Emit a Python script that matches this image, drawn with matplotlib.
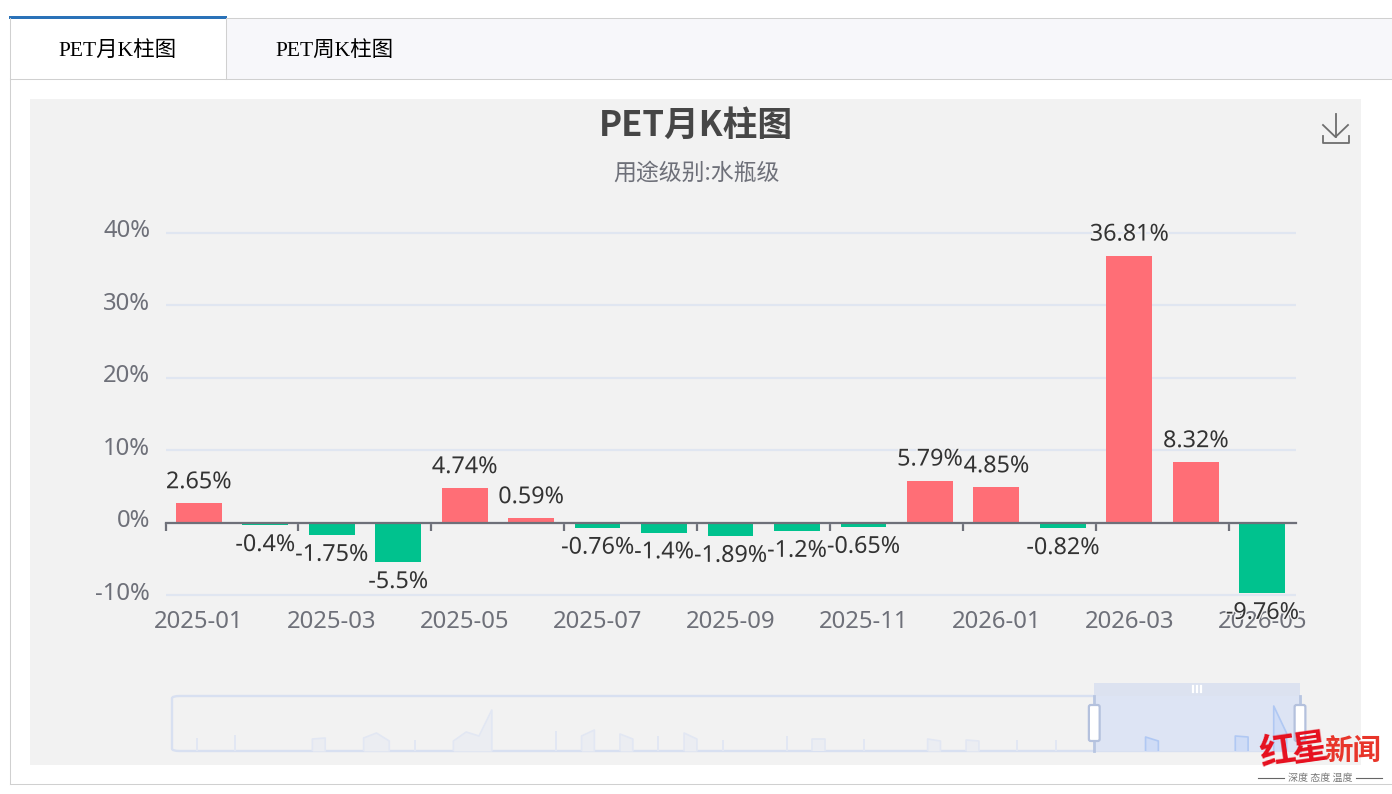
import numpy as np
import matplotlib
matplotlib.use('Agg')
import matplotlib.pyplot as plt
from matplotlib.patches import Rectangle, FancyBboxPatch
import matplotlib.patheffects as pe

W, H = 1392, 794
plt.rcParams['font.family'] = ['Noto Sans', 'Noto Sans CJK SC', 'DejaVu Sans']

months = ['2025-01', '2025-02', '2025-03', '2025-04', '2025-05', '2025-06', '2025-07', '2025-08', '2025-09',
          '2025-10', '2025-11', '2025-12', '2026-01', '2026-02', '2026-03', '2026-04', '2026-05']
changes = [2.65, -0.4, -1.75, -5.5, 4.74, 0.59, -0.76, -1.4, -1.89, -1.2, -0.65, 5.79, 4.85, -0.82, 36.81, 8.32, -9.76]
labels = ['2.65%', '-0.4%', '-1.75%', '-5.5%', '4.74%', '0.59%', '-0.76%', '-1.4%', '-1.89%', '-1.2%', '-0.65%',
          '5.79%', '4.85%', '-0.82%', '36.81%', '8.32%', '-9.76%']
yticks = [-10, 0, 10, 20, 30, 40]
# overview strip under the chart, sample index and height
mini_idx = [0, 3, 9, 10, 13, 14, 15, 17, 20, 21, 22, 23, 28, 30, 31, 33, 34, 36, 38, 39, 41, 46, 48, 49, 52, 57, 58,
            60, 61, 64, 67, 74, 75, 81, 82, 84, 85]
mini_val = [12, 15, 12, 13, 13, 18, 10, 10, 10, 19, 15, 41, 19, 15, 21, 17, 12, 14, 18, 12, 10, 14, 12, 12, 11, 12,
            10, 11, 10, 10, 10, 14, 10, 15, 14, 45, 18]
window_start = 70

RED, GREEN = '#ff6e76', '#00c28e'
AXIS, GRID, TEXT = '#6e7079', '#e0e6f1', '#333333'
PANEL = '#f2f2f2'
CJK = ['Noto Sans CJK SC', 'DejaVu Sans']


def rect_axes(fig, x0, y0, x1, y1):
    return fig.add_axes([x0 / W, 1 - y1 / H, (x1 - x0) / W, (y1 - y0) / H])


fig = plt.figure(figsize=(W / 100, H / 100), dpi=100, facecolor='white')

# page chrome, pixel coordinates
bg = fig.add_axes([0, 0, 1, 1])
bg.set_xlim(0, W)
bg.set_ylim(H, 0)
bg.axis('off')
bg.add_patch(Rectangle((227, 18), W - 227, 61, fc='#f7f7fa', ec='none'))
bg.plot([227, W], [17.5, 17.5], color='#d0d0d0', lw=0.75)
bg.plot([10, W], [79.2, 79.2], color='#d0d0d0', lw=0.75)
bg.add_patch(Rectangle((10, 18), 216, 61, fc='white', ec='none'))
bg.plot([9.5, 9.5], [18, 79], color='#d0d0d0', lw=0.75)
bg.plot([226.2, 226.2], [18, 79], color='#d0d0d0', lw=0.75)
bg.add_patch(Rectangle((9, 16), 218, 3, fc='#2a72b8', ec='none'))
bg.plot([10.2, 10.2], [79, 784], color='#d0d0d0', lw=0.75)
bg.plot([10, W], [784.2, 784.2], color='#d0d0d0', lw=0.75)
bg.add_patch(Rectangle((30, 99), 1331, 666, fc=PANEL, ec='none'))
tab_font = ['Liberation Serif', 'Noto Sans CJK SC']
bg.text(117.5, 51, 'PET月K柱图', ha='center', va='center', fontsize=15.5, color='black', family=tab_font)
bg.text(334.5, 51, 'PET周K柱图', ha='center', va='center', fontsize=15.5, color='black', family=tab_font)
bg.text(696, 125, 'PET月K柱图', ha='center', va='center', fontsize=25, fontweight='bold', color='#464646', family=CJK)
bg.text(696, 173, '用途级别:水瓶级', ha='center', va='center', fontsize=16.5, color=AXIS, family=CJK)
# download icon
bg.plot([1335.5, 1335.5], [114, 137], color='#6e6e6e', lw=1.3)
bg.plot([1323, 1335.5, 1348], [125, 137, 125], color='#6e6e6e', lw=1.3)
bg.plot([1322.5, 1322.5, 1348.5, 1348.5], [136, 143, 143, 136], color='#6e6e6e', lw=1.3)

# main bars
ax = rect_axes(fig, 165.5, 232.5, 1295.5, 595)
ax.patch.set_alpha(0)
x = np.arange(len(months))
colors = [RED if v >= 0 else GREEN for v in changes]
ax.bar(x, changes, width=0.69, color=colors, zorder=3)
ax.set_xlim(-0.5, len(months) - 0.5)
ax.set_ylim(-10, 40)
for s in ax.spines.values():
    s.set_visible(False)
ax.spines['bottom'].set_visible(True)
ax.spines['bottom'].set_position(('data', 0))
ax.spines['bottom'].set_color(AXIS)
ax.spines['bottom'].set_linewidth(1.6)
ax.spines['bottom'].set_zorder(4)
ax.set_yticks(yticks)
ax.set_yticklabels([])
ax.tick_params(axis='y', length=0)
ax.grid(axis='y', color=GRID, lw=1.6, zorder=0)
for line in ax.get_ygridlines():
    line.set_clip_on(False)
    line.set_solid_capstyle('butt')
for t in yticks:
    ax.annotate(f'{t}%', (0, t), xycoords=('axes fraction', 'data'), xytext=(-11, 1), textcoords='offset points',
                ha='right', va='center', fontsize=17.2, color=AXIS, annotation_clip=False)
ax.set_xticks(np.arange(-0.5, len(months), 2))
ax.set_xticklabels([])
ax.tick_params(axis='x', length=6, width=1.6, color=AXIS, direction='out')
for i in x[::2]:
    ax.annotate(months[i], (i, -10), xytext=(0, -10.5), textcoords='offset points', ha='center', va='top',
                fontsize=17.2, color=AXIS, annotation_clip=False)
for i, v in enumerate(changes):
    off = 6.5 if v >= 0 else -5.5
    ax.annotate(labels[i], (i, v), xytext=(0, off), textcoords='offset points', ha='center',
                va='bottom' if v >= 0 else 'top', fontsize=16.8, color=TEXT, annotation_clip=False, zorder=6,
                path_effects=[pe.withStroke(linewidth=2, foreground=PANEL)])

# overview strip
mini = rect_axes(fig, 172, 696, 1300, 751)
mini.set_xlim(-1.95, 86.05)
mini.set_ylim(0, 55)
mini.axis('off')
mini.patch.set_alpha(0)
mini.add_patch(FancyBboxPatch((-1.95, 0), 88, 55, boxstyle='round,pad=0,rounding_size=0.6', mutation_aspect=4,
                              fc='none', ec='#d8e0f1', lw=1.7, clip_on=False))
mini.add_patch(Rectangle((window_start, 0), 86.05 - window_start, 55, fc='#dde4f4', ec='none', zorder=2))
mini.add_patch(Rectangle((window_start, 55), 86.05 - window_start, 13, fc='#dce2f0', ec='none', clip_on=False, zorder=2))

groups = []
for i, v in zip(mini_idx, mini_val):
    if groups and i == groups[-1][0][-1] + 1:
        groups[-1][0].append(i)
        groups[-1][1].append(v)
    else:
        groups.append(([i], [v]))
for xs, ys in groups:
    inside = xs[0] > window_start
    mini.fill_between(xs, 0, ys, color='#cfdcf6' if inside else '#ebedf2', lw=0, zorder=3)
    px = [xs[0]] + xs + [xs[-1]]
    py = [0] + ys + [0]
    mini.plot(px, py, color='#b0c8f3' if inside else '#e2e7f3', lw=1.2, zorder=3)

for edge in (window_start, 86.05):
    mini.plot([edge, edge], [0, 55], color='#b8c6e2', lw=2, zorder=4, clip_on=False)
    mini.add_patch(FancyBboxPatch((edge - 0.42, 10), 0.84, 36, boxstyle='round,pad=0,rounding_size=0.15', mutation_aspect=12,
                                  fc='white', ec='#b4c1dd', lw=1.6, zorder=5, clip_on=False))
for off in (-0.3, 0, 0.3):
    mini.plot([78 + off, 78 + off], [59, 65], color='white', lw=1.6, zorder=5, clip_on=False)

# watermark
fg = fig.add_axes([0, 0, 1, 1])
fg.set_xlim(0, W)
fg.set_ylim(H, 0)
fg.axis('off')
fg.patch.set_alpha(0)
fg.text(1277, 752, '红', ha='center', va='center', fontsize=26, fontweight='bold', color='#e60f1e', family=CJK, rotation=8)
fg.text(1310, 749, '星', ha='center', va='center', fontsize=26, fontweight='bold', color='#e60f1e', family=CJK, rotation=8)
fg.text(1353, 752, '新闻', ha='center', va='center', fontsize=20.5, fontweight='bold', color='#e8352a', family=CJK)
fg.text(1320, 778, '深度 态度 温度', ha='center', va='center', fontsize=7.2, color='#777777', family=CJK)
fg.plot([1258, 1284], [778, 778], color='#666666', lw=0.8)
fg.plot([1356, 1382], [778, 778], color='#666666', lw=0.8)

fig.savefig('out.png', dpi=100, facecolor='white')
plt.close(fig)
